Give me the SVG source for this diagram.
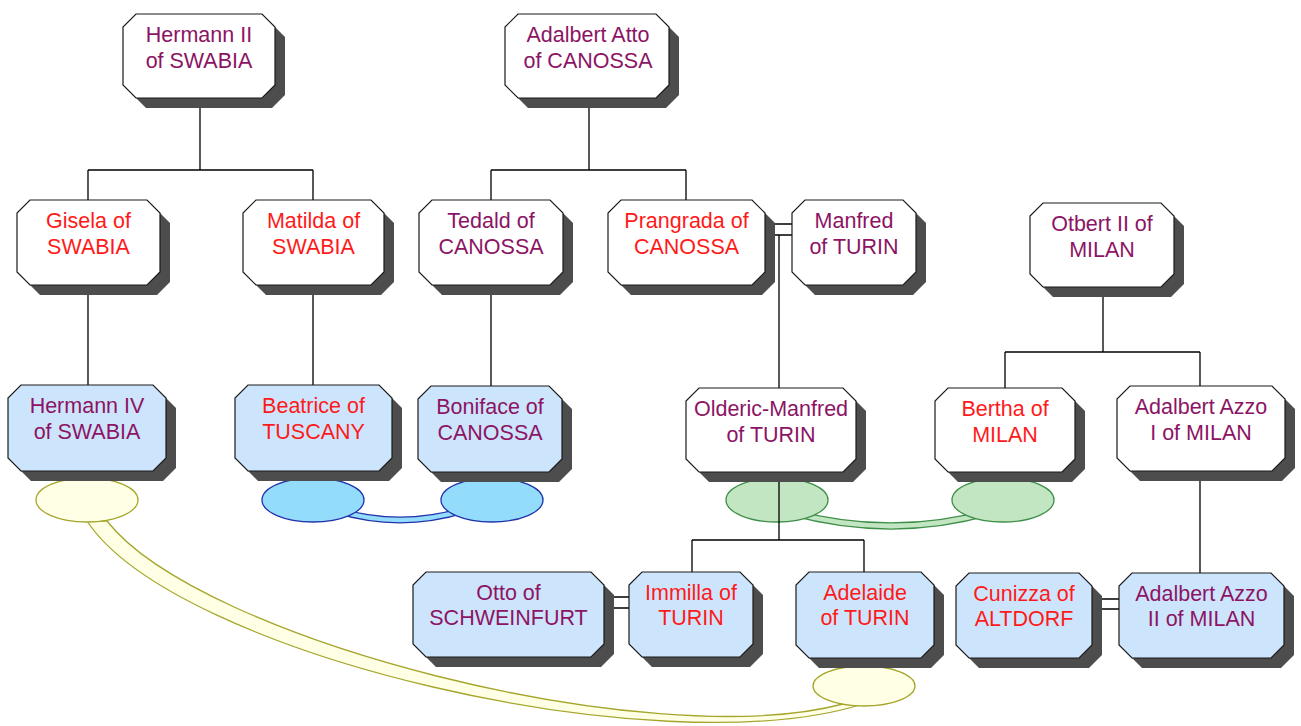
<svg xmlns="http://www.w3.org/2000/svg" width="1301" height="726" viewBox="0 0 1301 726">
  <style>
    .bg { fill: #ffffff; }
    .shadow { fill: #4d4d4d; stroke: none; }
    .box { fill: #ffffff; stroke: #1a1a1a; stroke-width: 1.2; }
    .box.child { fill: #cde5fc; }
    .line { fill: none; stroke: #000000; stroke-width: 1.3; }
    text { font-family: "Liberation Sans", Arial, sans-serif; font-size: 21.5px; text-anchor: middle; }
    .m { fill: #8c1464; }
    .f { fill: #ff1a1a; }
    .ov-y { fill: #ffffe6; stroke: #a6a62e; stroke-width: 1.3; }
    .ov-b { fill: #94dcfc; stroke: #2233aa; stroke-width: 1.3; }
    .ov-g { fill: #c2e6c2; stroke: #3e8f48; stroke-width: 1.3; }
    .band-b-out { fill: none; stroke: #2233aa; stroke-width: 7; }
    .band-b-in { fill: none; stroke: #94dcfc; stroke-width: 4.4; }
    .band-g-out { fill: none; stroke: #3e8f48; stroke-width: 7.5; }
    .band-g-in { fill: none; stroke: #c2e6c2; stroke-width: 4.8; }
  </style>
  <rect class="bg" x="0" y="0" width="1301" height="726"/>

  <!-- marriage links drawn as lobes under the boxes -->
  <g id="links">
    <path class="ov-y" d="M107,521 C200,640 650,755 843,704 L863,704 C660,768 175,655 87,521 Z"/>
    <path class="band-b-out" d="M335,510 Q400,530 465,510"/>
    <path class="band-b-in" d="M335,510 Q400,530 465,510"/>
    <path class="band-g-out" d="M790,512 Q892,540 990,512"/>
    <path class="band-g-in" d="M790,512 Q892,540 990,512"/>
    <ellipse class="ov-y" cx="87" cy="500" rx="51" ry="22"/>
    <ellipse class="ov-y" cx="864" cy="686" rx="51" ry="20"/>
    <ellipse class="ov-b" cx="313" cy="500" rx="51" ry="22"/>
    <ellipse class="ov-b" cx="492" cy="500" rx="51" ry="22"/>
    <ellipse class="ov-g" cx="777" cy="500" rx="51" ry="22"/>
    <ellipse class="ov-g" cx="1003" cy="500" rx="51" ry="22"/>
  </g>

  <!-- family tree connectors -->
  <g id="connectors">
    <path class="line" d="M200,98 V170 M88,170 H313 M88,170 V200 M313,170 V200"/>
    <path class="line" d="M589,98 V170 M491,170 H686 M491,170 V200 M686,170 V200"/>
    <path class="line" d="M88,285 V385 M313,285 V385 M491,285 V386"/>
    <path class="line" d="M765,224 H792 M765,235 H792 M779,235 V540 M692,540 H864 M692,540 V572 M864,540 V572"/>
    <path class="line" d="M1103,287 V352 M1005,352 H1200 M1005,352 V388 M1200,352 V386 M1200,471 V573"/>
    <path class="line" d="M604,597 H629 M604,608 H629"/>
    <path class="line" d="M1092,599 H1119 M1092,609 H1119"/>
  </g>

  <g id="hermann-ii">
    <polygon class="shadow" transform="translate(10,10)" points="136,14 262,14 275,27 275,85 262,98 136,98 123,85 123,27"/>
    <polygon class="box" points="136,14 262,14 275,27 275,85 262,98 136,98 123,85 123,27"/>
    <text class="m" x="199" y="42">Hermann II</text>
    <text class="m" x="199" y="68">of SWABIA</text>
  </g>

  <g id="adalbert-atto">
    <polygon class="shadow" transform="translate(10,10)" points="518,14 656,14 669,27 669,85 656,98 518,98 505,85 505,27"/>
    <polygon class="box" points="518,14 656,14 669,27 669,85 656,98 518,98 505,85 505,27"/>
    <text class="m" x="588" y="42">Adalbert Atto</text>
    <text class="m" x="588" y="68">of CANOSSA</text>
  </g>

  <g id="gisela">
    <polygon class="shadow" transform="translate(10,10)" points="30,200 147,200 160,213 160,272 147,285 30,285 17,272 17,213"/>
    <polygon class="box" points="30,200 147,200 160,213 160,272 147,285 30,285 17,272 17,213"/>
    <text class="f" x="88.5" y="228">Gisela of</text>
    <text class="f" x="88.5" y="254">SWABIA</text>
  </g>

  <g id="matilda">
    <polygon class="shadow" transform="translate(10,10)" points="256,200 371,200 384,213 384,272 371,285 256,285 243,272 243,213"/>
    <polygon class="box" points="256,200 371,200 384,213 384,272 371,285 256,285 243,272 243,213"/>
    <text class="f" x="313.5" y="228">Matilda of</text>
    <text class="f" x="313.5" y="254">SWABIA</text>
  </g>

  <g id="tedald">
    <polygon class="shadow" transform="translate(10,10)" points="432,200 550,200 563,213 563,272 550,285 432,285 419,272 419,213"/>
    <polygon class="box" points="432,200 550,200 563,213 563,272 550,285 432,285 419,272 419,213"/>
    <text class="m" x="491" y="228">Tedald of</text>
    <text class="m" x="491" y="254">CANOSSA</text>
  </g>

  <g id="prangrada">
    <polygon class="shadow" transform="translate(10,10)" points="621,200 752,200 765,213 765,272 752,285 621,285 608,272 608,213"/>
    <polygon class="box" points="621,200 752,200 765,213 765,272 752,285 621,285 608,272 608,213"/>
    <text class="f" x="686.5" y="228">Prangrada of</text>
    <text class="f" x="686.5" y="254">CANOSSA</text>
  </g>

  <g id="manfred">
    <polygon class="shadow" transform="translate(10,10)" points="805,200 903,200 916,213 916,272 903,285 805,285 792,272 792,213"/>
    <polygon class="box" points="805,200 903,200 916,213 916,272 903,285 805,285 792,272 792,213"/>
    <text class="m" x="854" y="228">Manfred</text>
    <text class="m" x="854" y="254">of TURIN</text>
  </g>

  <g id="otbert-ii">
    <polygon class="shadow" transform="translate(10,10)" points="1043,203 1161,203 1174,216 1174,274 1161,287 1043,287 1030,274 1030,216"/>
    <polygon class="box" points="1043,203 1161,203 1174,216 1174,274 1161,287 1043,287 1030,274 1030,216"/>
    <text class="m" x="1102" y="231">Otbert II of</text>
    <text class="m" x="1102" y="257">MILAN</text>
  </g>

  <g id="hermann-iv">
    <polygon class="shadow" transform="translate(10,10)" points="21,385 153,385 166,398 166,458 153,471 21,471 8,458 8,398"/>
    <polygon class="box child" points="21,385 153,385 166,398 166,458 153,471 21,471 8,458 8,398"/>
    <text class="m" x="87" y="413">Hermann IV</text>
    <text class="m" x="87" y="439">of SWABIA</text>
  </g>

  <g id="beatrice">
    <polygon class="shadow" transform="translate(10,10)" points="248,385 379,385 392,398 392,458 379,471 248,471 235,458 235,398"/>
    <polygon class="box child" points="248,385 379,385 392,398 392,458 379,471 248,471 235,458 235,398"/>
    <text class="f" x="313.5" y="413">Beatrice of</text>
    <text class="f" x="313.5" y="439">TUSCANY</text>
  </g>

  <g id="boniface">
    <polygon class="shadow" transform="translate(10,10)" points="431,386 549,386 562,399 562,459 549,472 431,472 418,459 418,399"/>
    <polygon class="box child" points="431,386 549,386 562,399 562,459 549,472 431,472 418,459 418,399"/>
    <text class="m" x="490" y="414">Boniface of</text>
    <text class="m" x="490" y="440">CANOSSA</text>
  </g>

  <g id="olderic-manfred">
    <polygon class="shadow" transform="translate(10,10)" points="699,388 843,388 856,401 856,459 843,472 699,472 686,459 686,401"/>
    <polygon class="box" points="699,388 843,388 856,401 856,459 843,472 699,472 686,459 686,401"/>
    <text class="m" x="771" y="416">Olderic-Manfred</text>
    <text class="m" x="771" y="442">of TURIN</text>
  </g>

  <g id="bertha">
    <polygon class="shadow" transform="translate(10,10)" points="948,388 1062,388 1075,401 1075,459 1062,472 948,472 935,459 935,401"/>
    <polygon class="box" points="948,388 1062,388 1075,401 1075,459 1062,472 948,472 935,459 935,401"/>
    <text class="f" x="1005" y="416">Bertha of</text>
    <text class="f" x="1005" y="442">MILAN</text>
  </g>

  <g id="adalbert-azzo-i">
    <polygon class="shadow" transform="translate(10,10)" points="1130,386 1272,386 1285,399 1285,458 1272,471 1130,471 1117,458 1117,399"/>
    <polygon class="box" points="1130,386 1272,386 1285,399 1285,458 1272,471 1130,471 1117,458 1117,399"/>
    <text class="m" x="1201" y="414">Adalbert Azzo</text>
    <text class="m" x="1201" y="440">I of MILAN</text>
  </g>

  <g id="otto">
    <polygon class="shadow" transform="translate(10,10)" points="426,572 591,572 604,585 604,644 591,657 426,657 413,644 413,585"/>
    <polygon class="box child" points="426,572 591,572 604,585 604,644 591,657 426,657 413,644 413,585"/>
    <text class="m" x="508.5" y="600">Otto of</text>
    <text class="m" x="508.5" y="625">SCHWEINFURT</text>
  </g>

  <g id="immilla">
    <polygon class="shadow" transform="translate(10,10)" points="642,572 740,572 753,585 753,644 740,657 642,657 629,644 629,585"/>
    <polygon class="box child" points="642,572 740,572 753,585 753,644 740,657 642,657 629,644 629,585"/>
    <text class="f" x="691" y="600">Immilla of</text>
    <text class="f" x="691" y="625">TURIN</text>
  </g>

  <g id="adelaide">
    <polygon class="shadow" transform="translate(10,10)" points="809,572 921,572 934,585 934,645 921,658 809,658 796,645 796,585"/>
    <polygon class="box child" points="809,572 921,572 934,585 934,645 921,658 809,658 796,645 796,585"/>
    <text class="f" x="865" y="600">Adelaide</text>
    <text class="f" x="865" y="625">of TURIN</text>
  </g>

  <g id="cunizza">
    <polygon class="shadow" transform="translate(10,10)" points="969,573 1079,573 1092,586 1092,645 1079,658 969,658 956,645 956,586"/>
    <polygon class="box child" points="969,573 1079,573 1092,586 1092,645 1079,658 969,658 956,645 956,586"/>
    <text class="f" x="1024" y="601">Cunizza of</text>
    <text class="f" x="1024" y="626">ALTDORF</text>
  </g>

  <g id="adalbert-azzo-ii">
    <polygon class="shadow" transform="translate(10,10)" points="1132,573 1271,573 1284,586 1284,645 1271,658 1132,658 1119,645 1119,586"/>
    <polygon class="box child" points="1132,573 1271,573 1284,586 1284,645 1271,658 1132,658 1119,645 1119,586"/>
    <text class="m" x="1201.5" y="601">Adalbert Azzo</text>
    <text class="m" x="1201.5" y="626">II of MILAN</text>
  </g>
</svg>
